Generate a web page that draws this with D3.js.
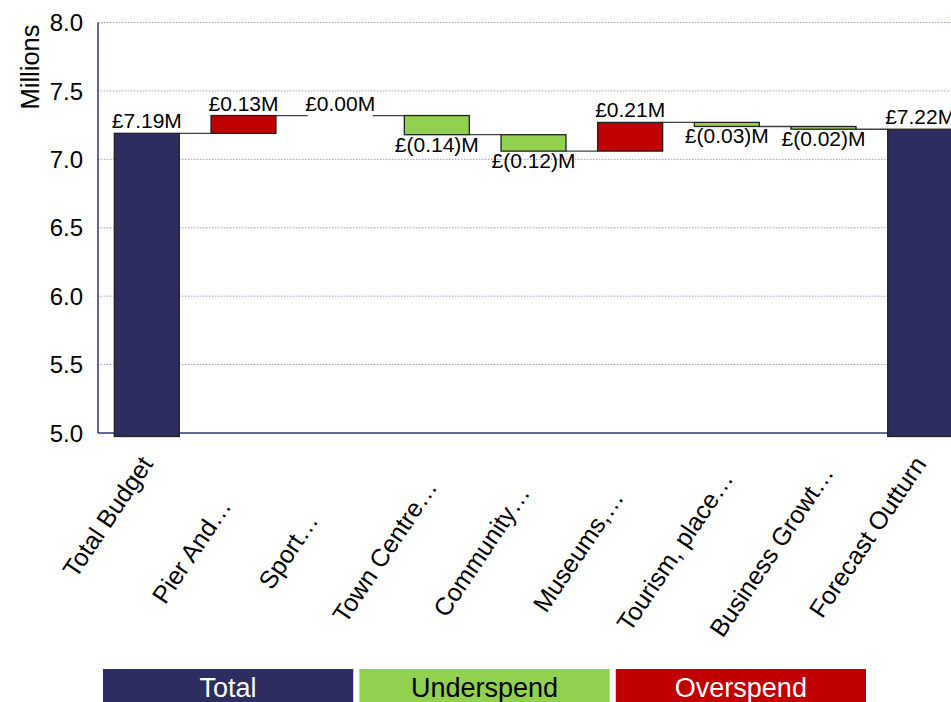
<!DOCTYPE html>
<html>
<head>
<meta charset="utf-8">
<script src="https://cdn.jsdelivr.net/npm/d3@7/dist/d3.min.js"></script>
<style>
  html, body { margin: 0; padding: 0; background: #fff; }
  svg { display: block; font-family: "Liberation Sans", Arial, sans-serif; }
</style>
</head>
<body>
<svg id="chart" width="951" height="702"></svg>
<script>
// Budget waterfall, values in £ millions
const categories = ["Total Budget", "Pier And…", "Sport…", "Town Centre…", "Community…",
                    "Museums,…", "Tourism, place…", "Business Growt…", "Forecast Outturn"];
const values = [7.19, 0.13, 0.00, -0.14, -0.12, 0.21, -0.03, -0.02, 7.22];
const kinds = ["total", "delta", "delta", "delta", "delta", "delta", "delta", "delta", "total"];
const yTicks = [5.0, 5.5, 6.0, 6.5, 7.0, 7.5, 8.0];
const legendItems = ["Total", "Underspend", "Overspend"];

const colors = { Total: "#2E2D5F", Underspend: "#92D050", Overspend: "#C00000" };
const legendText = { Total: "#ffffff", Underspend: "#000000", Overspend: "#ffffff" };

const W = 951, H = 702;
const plot = { left: 98, top: 22.5, bottom: 433, right: 969 };

const svg = d3.select("#chart");

const x = d3.scaleBand()
  .domain(categories)
  .range([plot.left, plot.right])
  .paddingInner(0.328)
  .paddingOuter(0.169);

const y = d3.scaleLinear()
  .domain([yTicks[0], yTicks[yTicks.length - 1]])
  .range([plot.bottom, plot.top]);

// Running totals for each step of the waterfall
let running = 0;
const steps = categories.map((c, i) => {
  const v = values[i];
  let start, end, kind;
  if (kinds[i] === "total") {
    start = y.domain()[0]; end = v; running = v; kind = "Total";
  } else {
    start = running; end = running + v; running = end;
    kind = v < 0 ? "Underspend" : "Overspend";
  }
  return { cat: c, value: v, start, end, level: running, kind, total: kinds[i] === "total" };
});

// Gridlines
svg.append("g")
  .selectAll("line")
  .data(yTicks.slice(1))
  .join("line")
  .attr("x1", plot.left).attr("x2", W)
  .attr("y1", d => y(d)).attr("y2", d => y(d))
  .attr("stroke", "#9c9cc8")
  .attr("stroke-width", 1)
  .attr("stroke-dasharray", "1.5,1.5");

// Connectors between consecutive bars
svg.append("g")
  .selectAll("line")
  .data(steps.slice(0, -1))
  .join("line")
  .attr("x1", d => x(d.cat) + x.bandwidth())
  .attr("x2", (d, i) => x(categories[i + 1]))
  .attr("y1", d => y(d.level)).attr("y2", d => y(d.level))
  .attr("stroke", "#404040")
  .attr("stroke-width", 1.3);

// Axis lines
const axisColor = "#33337A";
svg.append("line")
  .attr("x1", plot.left).attr("x2", plot.left)
  .attr("y1", y(yTicks[yTicks.length - 1])).attr("y2", plot.bottom)
  .attr("stroke", axisColor).attr("stroke-width", 1.5);
svg.append("line")
  .attr("x1", plot.left).attr("x2", W)
  .attr("y1", plot.bottom).attr("y2", plot.bottom)
  .attr("stroke", axisColor).attr("stroke-width", 1.5);

// Bars (totals overhang the baseline slightly)
const overhang = 3.5;
svg.append("g")
  .selectAll("rect")
  .data(steps)
  .join("rect")
  .attr("x", d => x(d.cat))
  .attr("width", x.bandwidth())
  .attr("y", d => y(Math.max(d.start, d.end)))
  .attr("height", d => Math.abs(y(d.start) - y(d.end)) + (d.total ? overhang : 0))
  .attr("fill", d => colors[d.kind])
  .attr("stroke", "#222")
  .attr("stroke-width", 1.3);

// Value labels
const fmt = d3.format(".2f");
const label = v => v < 0 ? `£(${fmt(-v)})M` : `£${fmt(v)}M`;
svg.append("g")
  .selectAll("text")
  .data(steps)
  .join("text")
  .attr("x", d => x(d.cat) + x.bandwidth() / 2)
  .attr("y", d => d.value < 0 ? y(Math.min(d.start, d.end)) + 17 : y(Math.max(d.start, d.end)) - 5)
  .attr("text-anchor", "middle")
  .attr("font-size", 21)
  .attr("fill", "#000")
  .text(d => label(d.value));

// Y tick labels
svg.append("g")
  .selectAll("text")
  .data(yTicks)
  .join("text")
  .attr("x", 83)
  .attr("y", d => y(d))
  .attr("dy", "0.36em")
  .attr("text-anchor", "end")
  .attr("font-size", 24)
  .attr("fill", "#000")
  .text(d => d3.format(".1f")(d));

// Y axis title
svg.append("text")
  .attr("transform", "translate(39,67) rotate(-90)")
  .attr("text-anchor", "middle")
  .attr("font-size", 25.5)
  .attr("fill", "#000")
  .text("Millions");

// Category labels, rotated
const angle = -56;
svg.append("g")
  .selectAll("text")
  .data(categories)
  .join("text")
  .attr("transform", d => {
    const cx = x(d) + x.bandwidth() / 2;
    return d.endsWith("…")
      ? `translate(${cx - 52},551) rotate(${angle})`
      : `translate(${cx + 7},464) rotate(${angle})`;
  })
  .attr("text-anchor", d => d.endsWith("…") ? "middle" : "end")
  .attr("dy", d => d.endsWith("…") ? "0.35em" : 0)
  .attr("font-size", 25)
  .attr("fill", "#000")
  .text(d => d);

// Legend
const legendX = d3.scaleBand()
  .domain(legendItems)
  .range([103, 866])
  .paddingInner(0.024);
const lg = svg.append("g").selectAll("g")
  .data(legendItems)
  .join("g")
  .attr("transform", d => `translate(${legendX(d)},669)`);
lg.append("rect")
  .attr("width", legendX.bandwidth())
  .attr("height", 40)
  .attr("fill", d => colors[d]);
lg.append("text")
  .attr("x", legendX.bandwidth() / 2)
  .attr("y", 18)
  .attr("dy", "0.36em")
  .attr("text-anchor", "middle")
  .attr("font-family", "'Liberation Sans Narrow', 'Arial Narrow', 'Liberation Sans', sans-serif")
  .attr("font-size", 27)
  .attr("fill", d => legendText[d])
  .text(d => d);
</script>
</body>
</html>
